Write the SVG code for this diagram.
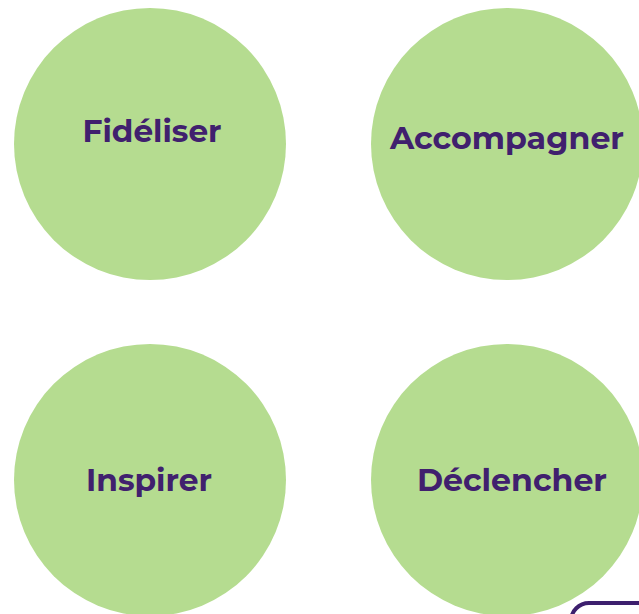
<svg xmlns="http://www.w3.org/2000/svg" width="639" height="614" viewBox="0 0 639 614">
<style>
.c{fill:#b5dc90}
.t{font-family:"Montserrat","Open Sans","Liberation Sans",sans-serif;font-weight:700;font-size:30px;fill:#40206e;text-anchor:middle}
</style>
<rect width="639" height="614" fill="#ffffff"/>
<g id="fideliser"><circle class="c" cx="150" cy="144" r="136"/><text class="t" x="152" y="142" textLength="139" lengthAdjust="spacingAndGlyphs">Fidéliser</text></g>
<g id="accompagner"><circle class="c" cx="507" cy="144" r="136"/><text class="t" x="507" y="149" textLength="234" lengthAdjust="spacingAndGlyphs">Accompagner</text></g>
<g id="inspirer"><circle class="c" cx="150" cy="480" r="136"/><text class="t" x="149" y="491" textLength="126" lengthAdjust="spacingAndGlyphs">Inspirer</text></g>
<g id="declencher"><circle class="c" cx="507" cy="480" r="136"/><text class="t" x="512" y="491" textLength="190" lengthAdjust="spacingAndGlyphs">Déclencher</text></g>
<g id="frame"><rect x="571" y="603" width="120" height="60" rx="18" fill="#ffffff" stroke="#3d1f6e" stroke-width="4"/></g>
<g id="connectors"></g>
</svg>
